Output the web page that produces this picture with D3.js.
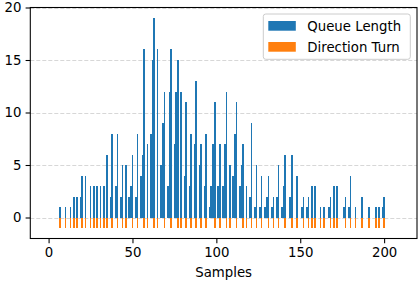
<!DOCTYPE html>
<html>
<head>
<meta charset="utf-8">
<script src="https://cdn.jsdelivr.net/npm/d3@7"></script>
<style>
  body { margin: 0; background: #fff; }
  text { font-family: "DejaVu Sans", sans-serif; fill: #000; }
</style>
</head>
<body>
<div id="chart"></div>
<script>
// samples where the queue is not empty, and its length there
var queueSamples = [7, 10, 13, 15, 17, 19, 20, 22, 25, 27, 29, 31, 33, 35, 37, 38, 40, 41, 43, 44,
    46, 48, 49, 50, 52, 53, 55, 56, 57, 59, 61, 62, 63, 65, 67, 68, 69, 71, 72, 73,
    75, 76, 77, 79, 81, 82, 84, 85, 87, 88, 90, 91, 93, 94, 96, 97, 98, 99, 101, 102,
    104, 105, 106, 108, 110, 111, 112, 114, 115, 116, 118, 120, 121, 123, 124, 126, 127, 129, 130, 131,
    133, 134, 136, 137, 139, 140, 141, 144, 145, 148, 151, 152, 154, 155, 157, 159, 162, 164, 167, 168,
    170, 172, 176, 177, 179, 180, 183, 187, 191, 195, 197, 199, 200];
var queueLength = [1, 1, 1, 2, 2, 2, 4, 4, 3, 3, 3, 3, 3, 6, 2, 8, 3, 8, 2, 5,
    5, 2, 3, 6, 2, 8, 4, 6, 16, 7, 8, 15, 19, 16, 5, 9, 12, 3, 12, 16,
    7, 12, 15, 12, 4, 11, 3, 8, 7, 13, 5, 7, 3, 8, 1, 3, 7, 11, 3, 7,
    3, 7, 12, 5, 4, 8, 11, 3, 5, 7, 3, 2, 9, 1, 5, 1, 4, 1, 2, 4,
    1, 2, 2, 5, 1, 3, 6, 2, 6, 4, 1, 2, 1, 2, 3, 3, 1, 1, 1, 2,
    3, 3, 1, 2, 1, 4, 1, 2, 1, 1, 1, 1, 2];

// samples where the direction turns
var turnSamples = [7, 10, 13, 15, 17, 20, 22, 25, 27, 29, 31, 33, 35, 38, 41, 44, 46, 50, 53, 57,
    59, 63, 65, 69, 73, 77, 79, 82, 85, 88, 91, 94, 99, 102, 106, 108, 112, 116, 118, 121,
    124, 127, 131, 134, 137, 141, 145, 148, 152, 155, 157, 159, 162, 164, 168, 170, 172, 177, 180, 183,
    187, 191, 195, 197, 200];
var turnValues = [-1, -1, -1, -1, -1, -1, -1, -1, -1, -1, -1, -1, -1, -1, -1, -1, -1, -1, -1, -1,
    -1, -1, -1, -1, -1, -1, -1, -1, -1, -1, -1, -1, -1, -1, -1, -1, -1, -1, -1, -1,
    -1, -1, -1, -1, -1, -1, -1, -1, -1, -1, -1, -1, -1, -1, -1, -1, -1, -1, -1, -1,
    -1, -1, -1, -1, -1];

var xTicks = [0, 50, 100, 150, 200];
var yTicks = [0, 5, 10, 15, 20];
var seriesNames = ["Queue Length", "Direction Turn"];
var seriesColours = ["#1f77b4", "#ff7f0e"];

var width = 419, height = 284;
var plot = {left: 30.3, right: 417, top: 7.5, bottom: 238.5};
var barWidth = 1.0;

var x = d3.scaleLinear().domain([-10.9, 219.6]).range([plot.left, plot.right]);
var y = d3.scaleLinear().domain([-2, 20]).range([plot.bottom, plot.top]);

var svg = d3.select("#chart").append("svg")
    .attr("width", width)
    .attr("height", height);

// grid
svg.append("g")
    .selectAll("line")
    .data(yTicks)
    .enter().append("line")
    .attr("x1", plot.left).attr("x2", plot.right)
    .attr("y1", function(d) { return Math.round(y(d)) + 0.5; })
    .attr("y2", function(d) { return Math.round(y(d)) + 0.5; })
    .attr("stroke", "#b0b0b0")
    .attr("stroke-opacity", 0.5)
    .attr("stroke-width", 1)
    .attr("stroke-dasharray", "4,2");

// bars snapped to whole pixels, as the original renderer does
function drawBars(samples, values, colour) {
    svg.append("g")
        .attr("shape-rendering", "crispEdges")
        .selectAll("rect")
        .data(samples)
        .enter().append("rect")
        .each(function(d, i) {
            var x0 = Math.round(x(d - barWidth / 2)),
                x1 = Math.round(x(d + barWidth / 2)),
                y0 = Math.round(y(0)),
                y1 = Math.round(y(values[i]));
            d3.select(this)
                .attr("x", x0)
                .attr("width", Math.max(1, x1 - x0))
                .attr("y", Math.min(y0, y1))
                .attr("height", Math.abs(y1 - y0));
        })
        .attr("fill", colour);
}
drawBars(queueSamples, queueLength, seriesColours[0]);
drawBars(turnSamples, turnValues, seriesColours[1]);

// axes
var xAxis = svg.append("g")
    .attr("transform", "translate(0," + plot.bottom + ")")
    .call(d3.axisBottom(x).tickValues(xTicks).tickSize(4.7).tickPadding(4.2));
var yAxis = svg.append("g")
    .attr("transform", "translate(" + plot.left + ",0)")
    .call(d3.axisLeft(y).tickValues(yTicks).tickSize(4.7).tickPadding(4.2));
[xAxis, yAxis].forEach(function(a) {
    a.select(".domain").remove();
    a.selectAll("line").attr("stroke", "#000").attr("stroke-width", 1.07);
    a.selectAll("text").style("font-size", "13.3px").style("font-family", "DejaVu Sans");
});

// frame
svg.append("rect")
    .attr("x", plot.left).attr("y", plot.top)
    .attr("width", plot.right - plot.left).attr("height", plot.bottom - plot.top)
    .attr("fill", "none")
    .attr("stroke", "#000")
    .attr("stroke-width", 1.07);

svg.append("text")
    .attr("x", (plot.left + plot.right) / 2)
    .attr("y", plot.bottom + 38)
    .attr("text-anchor", "middle")
    .style("font-size", "13.3px")
    .text("Samples");

// legend
var legend = svg.append("g")
    .attr("transform", "translate(263.3,14)");
legend.append("rect")
    .attr("width", 147).attr("height", 45.3)
    .attr("rx", 2.5)
    .attr("fill", "#fff").attr("fill-opacity", 0.8)
    .attr("stroke", "#cccccc").attr("stroke-width", 1);
seriesNames.forEach(function(name, i) {
    var row = legend.append("g").attr("transform", "translate(0," + (7 + i * 21) + ")");
    row.append("rect")
        .attr("x", 5).attr("width", 27.5)
        .attr("height", 9.7)
        .attr("fill", seriesColours[i]);
    row.append("text")
        .attr("x", 44)
        .attr("y", 9.7)
        .style("font-size", "13.3px")
        .text(name);
});
</script>
</body>
</html>
